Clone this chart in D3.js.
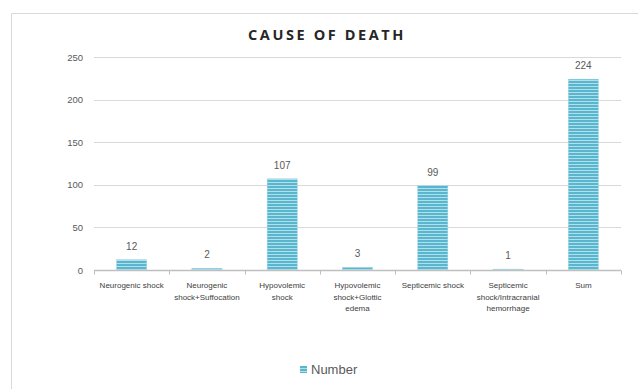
<!DOCTYPE html>
<html><head><meta charset="utf-8">
<script src="https://cdn.jsdelivr.net/npm/d3@7"></script>
<style>body{margin:0;background:#fff;}svg{display:block;}</style>
</head><body>
<svg id="c" width="638" height="389"></svg>
<script>
const categories = [
  ["Neurogenic shock"],
  ["Neurogenic", "shock+Suffocation"],
  ["Hypovolemic", "shock"],
  ["Hypovolemic", "shock+Glottic", "edema"],
  ["Septicemic shock"],
  ["Septicemic", "shock/Intracranial", "hemorrhage"],
  ["Sum"]
];
const values = [12, 2, 107, 3, 99, 1, 224];
const yTicks = [0, 50, 100, 150, 200, 250];
const seriesName = "Number";
const titleText = "CAUSE OF DEATH";

const svg = d3.select("#c");
const W = 638, H = 389;
const m = {l: 94, r: 17, t: 57, b: 119};

// frame
svg.append("path").attr("d", `M11.5,389 L11.5,13.5 L638,13.5`)
  .attr("fill","none").attr("stroke","#d9d9d9").attr("stroke-width",1);

const defs = svg.append("defs");
const pat = defs.append("pattern").attr("id","stripes").attr("patternUnits","userSpaceOnUse")
  .attr("width",6).attr("height",3);
pat.append("rect").attr("width",6).attr("height",3).attr("fill","#58b6cf");
pat.append("rect").attr("y",2).attr("width",6).attr("height",1).attr("fill","#b3dfeb");

const x = d3.scaleBand().domain(d3.range(categories.length)).range([m.l, W - m.r]).paddingInner(0.6).paddingOuter(0.3);
const xb = d3.scaleBand().domain(d3.range(categories.length)).range([m.l, W - m.r]);
const y = d3.scaleLinear().domain([0, 250]).range([H - m.b, m.t]);

// gridlines
svg.append("g").selectAll("line").data(yTicks.filter(d => d > 0)).join("line")
  .attr("x1", m.l).attr("x2", W - m.r)
  .attr("y1", d => Math.round(y(d)) + 0.5).attr("y2", d => Math.round(y(d)) + 0.5)
  .attr("stroke", "#d9d9d9");

// y labels
svg.append("g").selectAll("text").data(yTicks).join("text")
  .attr("x", 83).attr("y", d => y(d) + 3.5).attr("text-anchor","end")
  .attr("font-family","Liberation Sans, Arial, sans-serif").attr("font-size",9.5).attr("fill","#595959")
  .text(d => d);

// bars
svg.append("g").selectAll("rect").data(values).join("rect")
  .attr("x", (d,i) => x(i)).attr("width", x.bandwidth())
  .attr("y", d => y(d)).attr("height", d => y(0) - y(d))
  .attr("fill","url(#stripes)").attr("stroke","#9dd3e2").attr("stroke-width",0.5);

// x axis
const base = Math.round(y(0)) + 0.5;
svg.append("line").attr("x1", m.l).attr("x2", W - m.r).attr("y1", base).attr("y2", base)
  .attr("stroke","#bfbfbf").attr("stroke-width",1.5);
const bounds = d3.range(categories.length + 1).map(i => i < categories.length ? xb(i) : xb(i-1) + xb.bandwidth());
svg.append("g").selectAll("line").data(bounds).join("line")
  .attr("x1", d => Math.round(d) + 0.5).attr("x2", d => Math.round(d) + 0.5)
  .attr("y1", base).attr("y2", base + 4).attr("stroke","#bfbfbf");

// category labels
const cl = svg.append("g").selectAll("text").data(categories).join("text")
  .attr("text-anchor","middle").attr("font-family","Liberation Sans Narrow, Liberation Sans, Arial, sans-serif")
  .attr("font-size",8).attr("fill","#404040");
cl.each(function(lines, i) {
  const t = d3.select(this);
  lines.forEach((ln, j) => t.append("tspan").attr("x", xb(i) + xb.bandwidth()/2).attr("y", 288 + j*11.5).text(ln));
});

// data labels
svg.append("g").selectAll("text").data(values).join("text")
  .attr("x", (d,i) => x(i) + x.bandwidth()/2).attr("y", d => y(d) - 10)
  .attr("text-anchor","middle").attr("font-family","Liberation Sans, Arial, sans-serif")
  .attr("font-size",10).attr("fill","#595959").text(d => d);

// title
svg.append("text").attr("x", 327).attr("y", 40).attr("text-anchor","middle")
  .attr("font-family","Open Sans, Liberation Sans, Arial, sans-serif").attr("font-weight","bold")
  .attr("font-size",14.5).attr("letter-spacing",2.6).attr("fill","#262626").text(titleText);

// legend
svg.append("rect").attr("x",300).attr("y",366).attr("width",7).attr("height",7).attr("fill","url(#stripes)");
svg.append("text").attr("x",311).attr("y",374).attr("font-family","Liberation Sans, Arial, sans-serif")
  .attr("font-size",13).attr("fill","#595959").text(seriesName);
</script>
</body></html>
